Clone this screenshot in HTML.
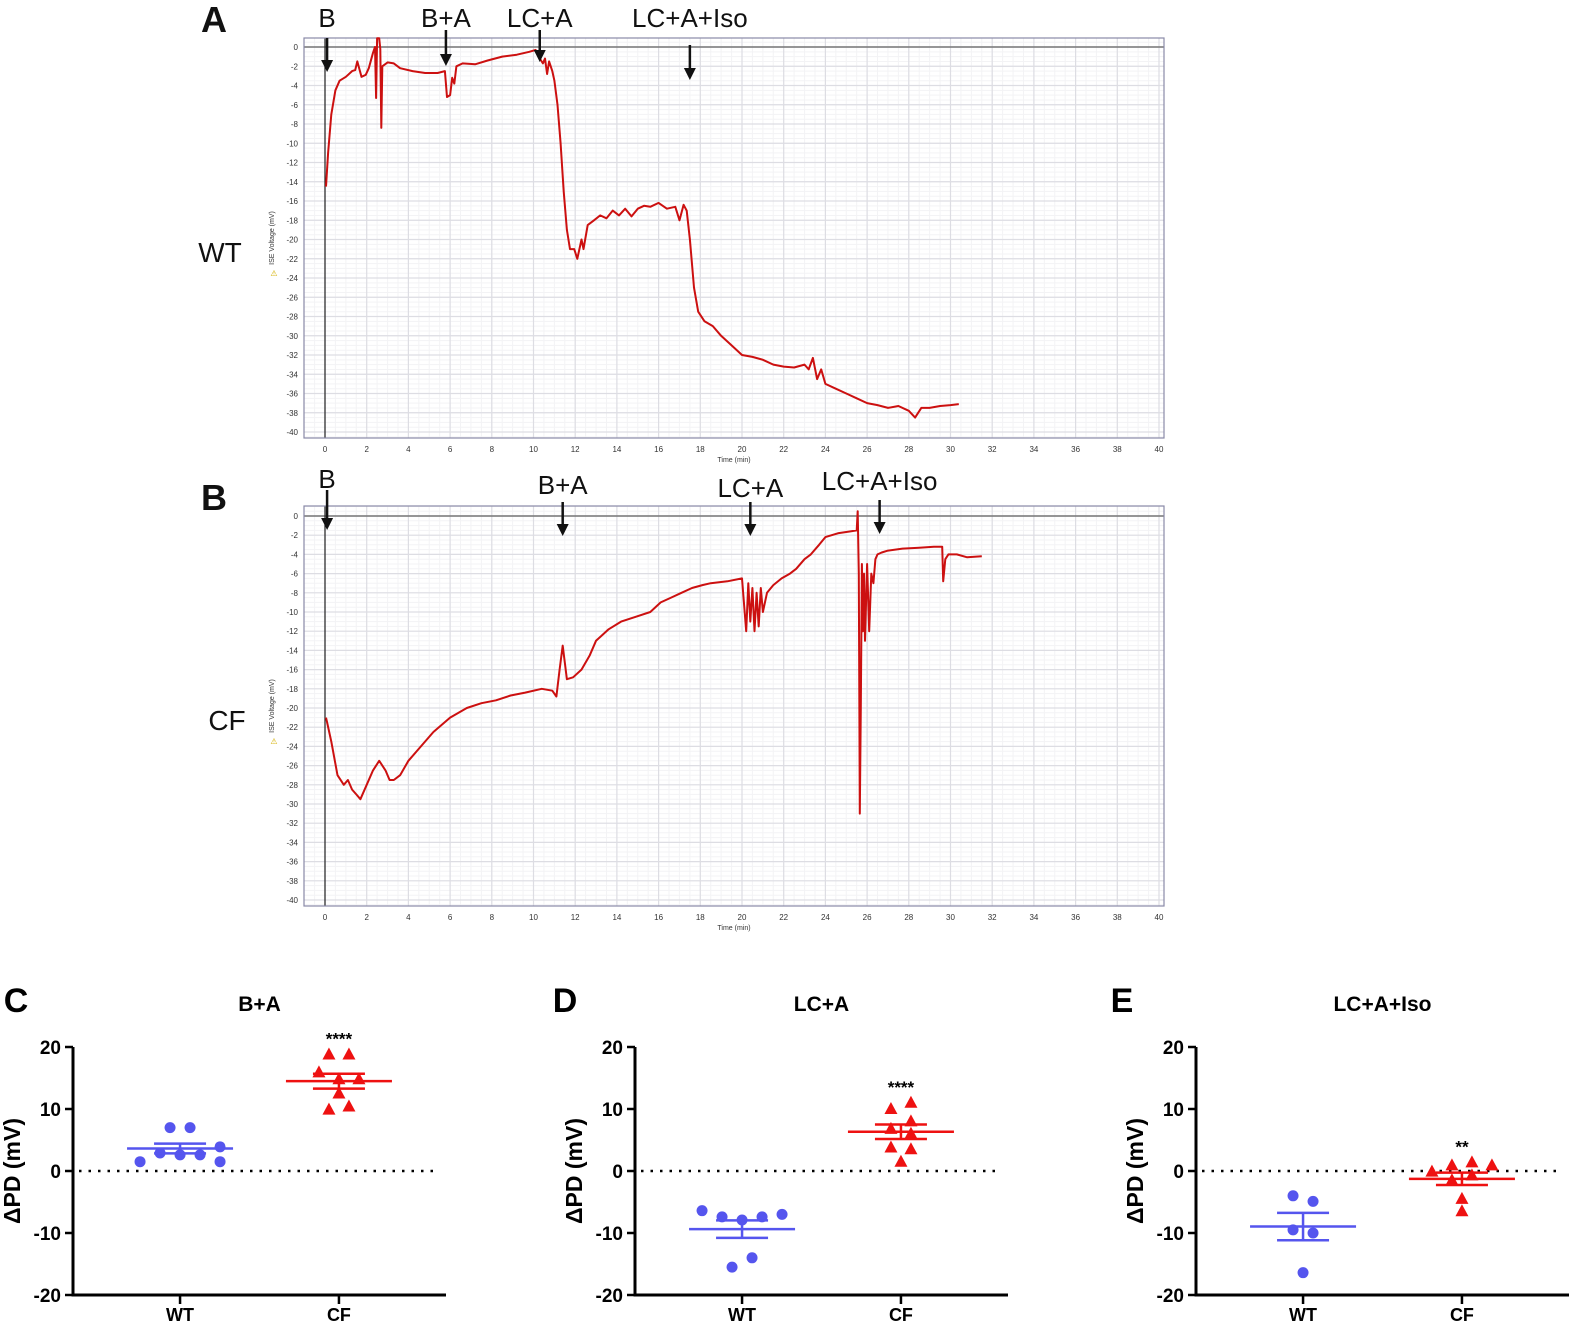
<!DOCTYPE html>
<html><head><meta charset="utf-8"><style>
body{margin:0;background:#fff}
svg{display:block;font-family:"Liberation Sans",sans-serif}
</style></head><body>
<svg id="fig" width="1573" height="1330" viewBox="0 0 1573 1330" xmlns="http://www.w3.org/2000/svg">
<g id="layer"></g>
</svg>
<script>
// ---------- Data ----------
const traceWT_t=[0.05,0.15,0.3,0.5,0.7,1.0,1.3,1.45,1.55,1.75,1.95,2.1,2.3,2.4,2.45,2.5,2.6,2.65,2.7,2.75,3.0,3.3,3.6,4.2,4.8,5.4,5.75,5.85,6.0,6.1,6.2,6.3,6.6,7.2,7.8,8.5,9.2,9.8,10.1,10.3,10.45,10.55,10.65,10.75,10.9,11.0,11.15,11.3,11.45,11.6,11.75,11.95,12.1,12.3,12.4,12.6,12.9,13.2,13.5,13.8,14.1,14.4,14.7,15,15.3,15.6,16,16.4,16.8,17,17.2,17.35,17.5,17.7,17.9,18.2,18.6,19,19.5,20,20.5,21,21.5,22,22.5,23,23.2,23.4,23.6,23.8,24,24.5,25,25.5,26,26.5,27,27.5,28,28.3,28.6,29,29.5,30,30.4];
const traceWT_v=[-14.5,-11,-7,-4.5,-3.5,-3.1,-2.5,-2.4,-1.5,-3.1,-2.9,-2.2,-0.6,0,-5.3,0.9,0.9,-0.2,-8.4,-2,-1.6,-1.7,-2.2,-2.5,-2.7,-2.7,-2.5,-5.2,-5.0,-3.2,-3.8,-2.0,-1.7,-1.8,-1.4,-1.0,-0.8,-0.5,-0.3,-1.2,-1.7,-1.2,-2.8,-1.5,-2.5,-3.5,-6,-10,-15,-19,-21,-21,-22,-20,-21,-18.5,-18,-17.5,-17.8,-17,-17.5,-16.8,-17.6,-16.8,-16.5,-16.6,-16.2,-16.8,-16.6,-18,-16.4,-17,-20,-25,-27.5,-28.5,-29,-30,-31,-32,-32.2,-32.5,-33,-33.2,-33.3,-33,-33.5,-32.3,-34.5,-33.5,-35,-35.5,-36,-36.5,-37,-37.2,-37.5,-37.3,-37.8,-38.5,-37.5,-37.5,-37.3,-37.2,-37.1];
const traceCF_t=[0.05,0.1,0.3,0.6,0.9,1.1,1.3,1.5,1.7,2.0,2.3,2.6,2.9,3.1,3.3,3.6,4.0,4.6,5.2,6.0,6.8,7.5,8.2,8.9,9.6,10.4,10.9,11.1,11.25,11.4,11.6,11.9,12.3,12.7,13.0,13.6,14.2,14.9,15.6,16.1,16.6,17.1,17.6,18.1,18.5,19.3,20.0,20.2,20.3,20.4,20.5,20.6,20.7,20.8,20.9,21.0,21.2,21.5,21.9,22.3,22.6,23.0,23.3,23.7,24.0,24.6,25.2,25.5,25.55,25.6,25.65,25.7,25.75,25.8,25.85,25.9,26.0,26.1,26.2,26.3,26.4,26.5,26.7,27.0,27.7,28.5,29.2,29.6,29.65,29.75,29.9,30.3,30.8,31.5];
const traceCF_v=[-21,-21.5,-23.5,-27,-28,-27.5,-28.5,-29,-29.5,-28,-26.5,-25.5,-26.5,-27.5,-27.5,-27,-25.5,-24,-22.5,-21,-20,-19.5,-19.2,-18.7,-18.4,-18,-18.2,-18.8,-16,-13.5,-17,-16.8,-16,-14.5,-13,-11.8,-11,-10.5,-10,-9,-8.5,-8,-7.5,-7.2,-7,-6.8,-6.5,-12,-7,-11,-7.5,-12,-8,-11.5,-7.5,-10,-8,-7.2,-6.5,-6,-5.5,-4.5,-4,-3,-2.2,-1.8,-1.6,-1.5,0.5,-6,-31,-20,-5,-12,-6,-13,-5,-12,-6,-7,-4.5,-4,-3.8,-3.6,-3.4,-3.3,-3.2,-3.2,-6.8,-4.5,-4,-4,-4.3,-4.2];
const timeTicks=[0,2,4,6,8,10,12,14,16,18,20,22,24,26,28,30,32,34,36,38,40];
const voltTicks=[0,-2,-4,-6,-8,-10,-12,-14,-16,-18,-20,-22,-24,-26,-28,-30,-32,-34,-36,-38,-40];
const markersWT=["B","B+A","LC+A","LC+A+Iso"];
const markersWT_t=[0.1,5.8,10.3,17.5];
const markersCF=["B","B+A","LC+A","LC+A+Iso"];
const markersCF_t=[0.1,11.4,20.4,26.6];

const groups=["WT","CF"];
const C_wt=[1.5,7,7,2.9,2.6,2.6,3.9,1.5];
const C_wt_slot=[-4,-1,1,-2,0,2,4,4];
const C_cf=[18.8,18.8,15.9,14.8,14.8,12.5,9.9,10.4];
const C_cf_slot=[-1,1,-2,0,2,0,-1,1];
const D_wt=[-6.4,-7.4,-7.9,-7.4,-7,-15.5,-14];
const D_wt_slot=[-4,-2,0,2,4,-1,1];
const D_cf=[11,10,8,6.8,6,3.8,3.5,1.5];
const D_cf_slot=[1,-1,1,-1,1,-1,1,0];
const E_wt=[-4,-4.9,-9.5,-10,-16.4];
const E_wt_slot=[-1,1,-1,1,0];
const E_cf=[-0.1,0.9,1.4,0.9,-0.7,-1.5,-4.5,-6.5];
const E_cf_slot=[-3,-1,1,3,1,-1,0,0];
const dpTicks=[20,10,0,-10,-20];
const titles=["B+A","LC+A","LC+A+Iso"];
const stars=["****","****","**"];

// ---------- helpers ----------
const NS="http://www.w3.org/2000/svg";
const layer=document.getElementById('layer');
function mk(tag,attrs,parent){const e=document.createElementNS(NS,tag);for(const k in attrs)e.setAttribute(k,attrs[k]);(parent||layer).appendChild(e);return e;}
function txt(s,attrs,parent){const e=mk('text',attrs,parent);e.textContent=s;return e;}

// ---------- trace panels ----------
function tracePanel(cfg){
  const g=mk('g',{});
  
  
  const X=t=>cfg.x0+(t-0)*(cfg.x40-cfg.x0)/40;
  const Y=v=>cfg.y0+(0-v)*(cfg.ym40-cfg.y0)/40;
  mk('rect',{x:cfg.fl,y:cfg.ft,width:cfg.fr-cfg.fl,height:cfg.fb-cfg.ft,fill:'#fff'},g);
  for(let t=-1.5;t<=41.5;t+=0.5){const x=X(t);if(x<cfg.fl||x>cfg.fr)continue;mk('line',{x1:x,x2:x,y1:cfg.ft,y2:cfg.fb,stroke:'#f3f3f5','stroke-width':1},g);}
  for(let v=1;v>=-41;v-=0.5){const y=Y(v);if(y<cfg.ft||y>cfg.fb)continue;mk('line',{x1:cfg.fl,x2:cfg.fr,y1:y,y2:y,stroke:'#f3f3f5','stroke-width':1},g);}
  timeTicks.forEach(t=>{const x=X(t);const l=mk('line',{x1:x,x2:x,y1:cfg.ft,y2:cfg.fb,stroke:'#dddde3','stroke-width':1.2},g);
    
    const tl=txt(String(t),{x:x,y:cfg.fb+14,'font-size':8,'text-anchor':'middle',fill:'#333'},g);
    });
  voltTicks.forEach(v=>{const y=Y(v);mk('line',{x1:cfg.fl,x2:cfg.fr,y1:y,y2:y,stroke:'#dddde3','stroke-width':1.2},g);
    const tl=txt(String(v),{x:cfg.fl-6,y:y+3,'font-size':8,'text-anchor':'end',fill:'#333'},g);
    });
  mk('line',{x1:cfg.fl,x2:cfg.fr,y1:Y(0),y2:Y(0),stroke:'#777','stroke-width':1.5},g);
  mk('line',{x1:X(0),x2:X(0),y1:cfg.ft,y2:cfg.fb,stroke:'#222','stroke-width':1.2},g);
  const fr=mk('rect',{x:cfg.fl,y:cfg.ft,width:cfg.fr-cfg.fl,height:cfg.fb-cfg.ft,fill:'none',stroke:'#8a8aa8','stroke-width':1.2},g);
  
  const yt=txt('ISE Voltage  (mV)',{x:0,y:0,'font-size':7,'text-anchor':'middle',fill:'#333',transform:`translate(${cfg.fl-30},${(cfg.ft+cfg.fb)/2}) rotate(-90)`},g);
  
  const wi=txt('⚠',{x:cfg.fl-30,y:(cfg.ft+cfg.fb)/2+38,'font-size':8,'text-anchor':'middle',fill:'#d4b000'},g);
  
  const xt=txt('Time (min)',{x:(cfg.fl+cfg.fr)/2,y:cfg.fb+24,'font-size':7,'text-anchor':'middle',fill:'#333'},g);
  
  let d='';cfg.t.forEach((t,i)=>{d+=(i?'L':'M')+X(t).toFixed(1)+','+Y(cfg.v[i]).toFixed(1);});
  const p=mk('path',{d:d,fill:'none',stroke:'#cc1010','stroke-width':2,'stroke-linejoin':'round'},g);
  
  cfg.mk.forEach((s,i)=>{const x=X(cfg.mt[i]);
    const a=cfg.arrows[i];
    const lb=txt(s,{x:x,y:a[0],'font-size':26,'text-anchor':'middle',fill:'#111'},g);
    
    mk('line',{x1:x,x2:x,y1:a[1],y2:a[2]-10,stroke:'#111','stroke-width':2.5},g);
    const ah=mk('path',{d:`M${x-6},${a[2]-12}L${x+6},${a[2]-12}L${x},${a[2]}Z`,fill:'#111'},g);
    
  });
  const pl=txt(cfg.letter,{x:cfg.lx,y:cfg.ly,'font-size':36,'font-weight':'bold','text-anchor':'middle',fill:'#111'},g);
  
  const gl=txt(cfg.group,{x:cfg.gx,y:cfg.gy,'font-size':28,'text-anchor':'middle',fill:'#111'},g);
  
}
tracePanel({name:'panel-a-wt-trace',fl:304,fr:1164,ft:38,fb:438,x0:325,x40:1159,y0:47,ym40:432,t:traceWT_t,v:traceWT_v,
  mk:markersWT,mt:markersWT_t,arrows:[[27,38,72],[27,30,66],[27,30,62],[27,45,80]],letter:'A',lx:214,ly:32,group:'WT',gx:220,gy:262});
tracePanel({name:'panel-b-cf-trace',fl:304,fr:1164,ft:506,fb:906,x0:325,x40:1159,y0:516,ym40:900,t:traceCF_t,v:traceCF_v,
  mk:markersCF,mt:markersCF_t,arrows:[[488,490,530],[494,502,536],[497,502,536],[490,500,534]],letter:'B',lx:214,ly:510,group:'CF',gx:227,gy:730});

// ---------- scatter panels ----------
function mean(a){return a.reduce((s,v)=>s+v,0)/a.length;}
function sem(a){const m=mean(a);const sd=Math.sqrt(a.reduce((s,v)=>s+(v-m)*(v-m),0)/(a.length-1));return sd/Math.sqrt(a.length);}
function scatterPanel(cfg){
  const g=mk('g',{});
  
  
  const top=1047,bot=1295;
  const Y=v=>top+(20-v)*(bot-top)/40;
  const xs=[cfg.ax+(cfg.right-cfg.ax)*0.287,cfg.ax+(cfg.right-cfg.ax)*0.713];
  mk('line',{x1:cfg.ax,x2:cfg.ax,y1:top,y2:bot+1.5,stroke:'#000','stroke-width':3},g);
  mk('line',{x1:cfg.ax-1.5,x2:cfg.right,y1:bot,y2:bot,stroke:'#000','stroke-width':3},g);
  dpTicks.forEach(v=>{const y=Y(v);mk('line',{x1:cfg.ax-8,x2:cfg.ax,y1:y,y2:y,stroke:'#000','stroke-width':2.5},g);
    const t=txt(String(v),{x:cfg.ax-12,y:y+7,'font-size':19,'font-weight':'bold','text-anchor':'end'},g);
    });
  groups.forEach((s,i)=>{mk('line',{x1:xs[i],x2:xs[i],y1:bot,y2:bot+9,stroke:'#000','stroke-width':2.5},g);
    const t=txt(s,{x:xs[i],y:bot+26,'font-size':18,'font-weight':'bold','text-anchor':'middle'},g);
    });
  mk('line',{x1:cfg.ax+6,x2:cfg.right-6,y1:Y(0),y2:Y(0),stroke:'#000','stroke-width':2.5,'stroke-dasharray':'2.5,7'},g);
  const yt=txt('ΔPD (mV)',{x:0,y:0,'font-size':23,'font-weight':'bold','text-anchor':'middle',transform:`translate(${cfg.ax-53},${Y(0)}) rotate(-90)`},g);
  
  const tt=txt(cfg.title,{x:(cfg.ax+cfg.right)/2,y:1011,'font-size':21,'font-weight':'bold','text-anchor':'middle'},g);
  
  const pl=txt(cfg.letter,{x:cfg.lx,y:1012,'font-size':34,'font-weight':'bold','text-anchor':'middle'},g);
  
  const sets=[cfg.wt,cfg.cf],slots=[cfg.wts,cfg.cfs],cols=['#5555ee','#ee1111'];
  sets.forEach((arr,gi)=>{
    const cx=xs[gi],col=cols[gi];
    arr.forEach((v,k)=>{
      const x=cx+slots[gi][k]*10,y=Y(v);
      let e;
      if(gi===0){e=mk('circle',{cx:x,cy:y,r:5.5,fill:col},g);}
      else{e=mk('path',{d:`M${x},${y-7}L${x+6.5},${y+5}L${x-6.5},${y+5}Z`,fill:col},g);}
      
    });
    const m=mean(arr),s=sem(arr);
    const ml=mk('line',{x1:cx-53,x2:cx+53,y1:Y(m),y2:Y(m),stroke:col,'stroke-width':2.5},g);
    
    mk('line',{x1:cx,x2:cx,y1:Y(m+s),y2:Y(m-s),stroke:col,'stroke-width':2.5},g);
    [m+s,m-s].forEach(v=>{const el=mk('line',{x1:cx-26,x2:cx+26,y1:Y(v),y2:Y(v),stroke:col,'stroke-width':2.5},g);
      });
    if(gi===1){const st=txt(cfg.star,{x:cx,y:Y(Math.max(...arr))-10,'font-size':17,'font-weight':'bold','text-anchor':'middle'},g);
      }
  });
}
scatterPanel({name:'panel-c-scatter',ax:73,right:446,wt:C_wt,cf:C_cf,wts:C_wt_slot,cfs:C_cf_slot,title:titles[0],star:stars[0],letter:'C',lx:16});
scatterPanel({name:'panel-d-scatter',ax:635,right:1008,wt:D_wt,cf:D_cf,wts:D_wt_slot,cfs:D_cf_slot,title:titles[1],star:stars[1],letter:'D',lx:565});
scatterPanel({name:'panel-e-scatter',ax:1196,right:1569,wt:E_wt,cf:E_cf,wts:E_wt_slot,cfs:E_cf_slot,title:titles[2],star:stars[2],letter:'E',lx:1122});
</script>
</body></html>
